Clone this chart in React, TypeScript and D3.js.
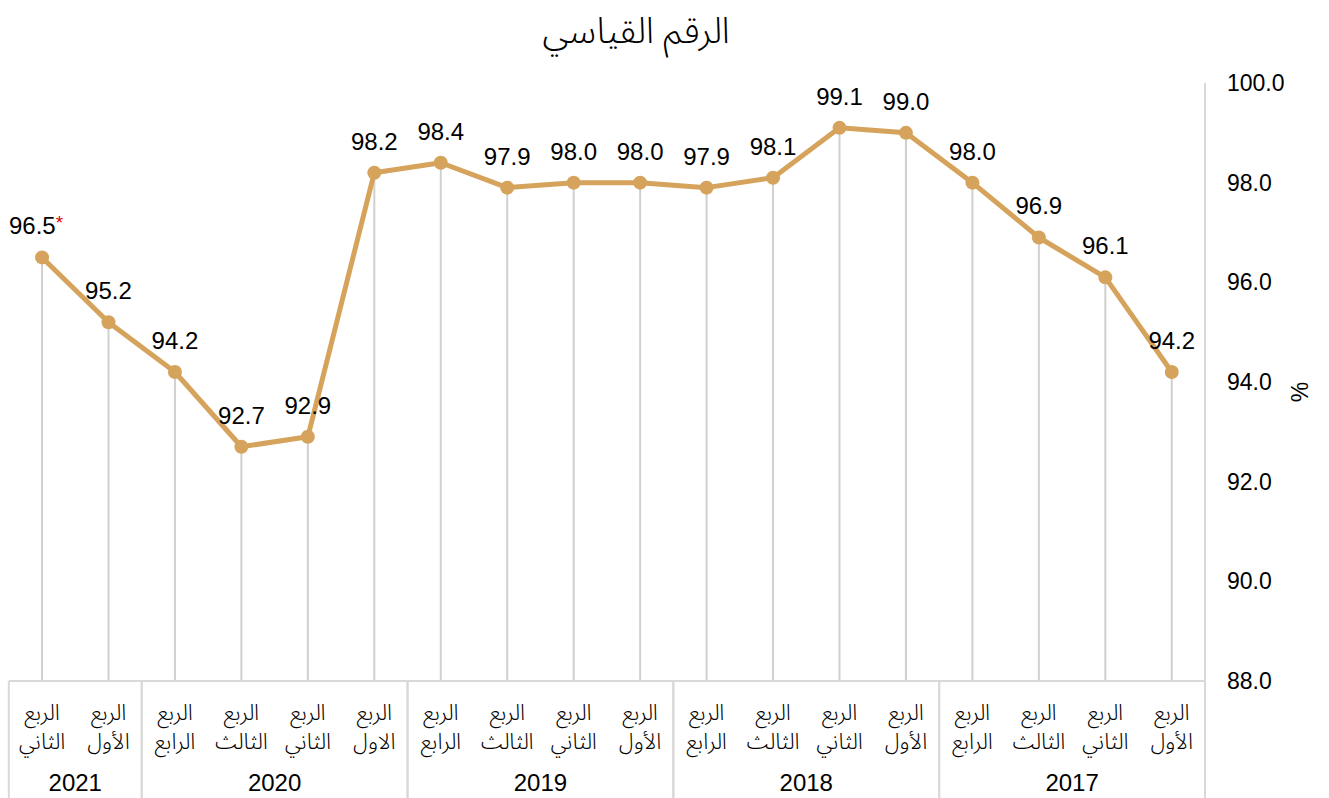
import React from 'react';
import * as d3 from 'd3';

// chronological order, drawn right-to-left
const periodYears = [
  '2017', '2017', '2017', '2017',
  '2018', '2018', '2018', '2018',
  '2019', '2019', '2019', '2019',
  '2020', '2020', '2020', '2020',
  '2021', '2021',
];
const quarterNames = [
  'الأول', 'الثاني', 'الثالث', 'الرابع',
  'الأول', 'الثاني', 'الثالث', 'الرابع',
  'الأول', 'الثاني', 'الثالث', 'الرابع',
  'الاول', 'الثاني', 'الثالث', 'الرابع',
  'الأول', 'الثاني',
];
const indexValues = [
  94.2, 96.1, 96.9, 98.0,
  99.0, 99.1, 98.1, 97.9,
  98.0, 98.0, 97.9, 98.4,
  98.2, 92.9, 92.7, 94.2,
  95.2, 96.5,
];
const yTicks = [88, 90, 92, 94, 96, 98, 100];
const years = ['2017', '2018', '2019', '2020', '2021'];

const W = 1329;
const H = 798;
const left = 8.8;
const right = 1205;
const top = 83;
const bottom = 681;

export default function App() {
  const idx = indexValues.map((_, i) => i);
  const x = d3.scaleBand<number>().domain(idx).range([right, left]).padding(0);
  const y = d3.scaleLinear().domain([88, 100]).range([bottom, top]);
  const cx = (i: number) => (x(i) as number) + x.bandwidth() / 2;

  const line = d3.line<number>()
    .x((_, i) => cx(i))
    .y(d => y(d));

  const lineColor = '#D5A35C';
  const grid = '#d0d0d0';
  const font = '"Liberation Sans", Arial, sans-serif';
  const arabic = '"Noto Sans Arabic", "DejaVu Sans", sans-serif';

  // year group bounds
  const groups = years.map(yr => {
    const members = idx.filter(i => periodYears[i] === yr);
    const xs = members.flatMap(i => [x(i) as number, (x(i) as number) + x.bandwidth()]);
    return { yr, x0: d3.min(xs) as number, x1: d3.max(xs) as number };
  });

  return (
    <svg width={W} height={H} style={{ position: 'absolute', left: 0, top: 0 }} fontFamily={font}>
      <rect width={W} height={H} fill="#fff" />
      <text x={636} y={43} textAnchor="middle" fontSize={36} fontWeight={350} fill="#000" fontFamily={arabic}>الرقم القياسي</text>

      {/* value axis */}
      <line x1={right} x2={right} y1={top} y2={bottom} stroke="#d9d9d9" strokeWidth={2} />
      {yTicks.map(t => (
        <text key={t} x={1227} y={y(t)} dy="0.35em" fontSize={23} fill="#000">{t.toFixed(1)}</text>
      ))}
      <text transform={`translate(1308,${(top + bottom) / 2 + 10}) rotate(-90)`} textAnchor="middle" fontSize={23} fill="#000">%</text>

      {/* drop lines */}
      {indexValues.map((v, i) => (
        <line key={i} x1={cx(i)} x2={cx(i)} y1={y(v)} y2={bottom} stroke={grid} strokeWidth={2} />
      ))}

      {/* category axis */}
      <line x1={left} x2={right} y1={bottom} y2={bottom} stroke="#d9d9d9" strokeWidth={2} />
      {groups.map(g => (
        <g key={g.yr}>
          <line x1={g.x0} x2={g.x0} y1={bottom} y2={H} stroke="#d9d9d9" strokeWidth={2} />
          <line x1={g.x1} x2={g.x1} y1={bottom} y2={H} stroke="#d9d9d9" strokeWidth={2} />
          <text x={(g.x0 + g.x1) / 2} y={791} textAnchor="middle" fontSize={24} fill="#000">{g.yr}</text>
        </g>
      ))}
      {idx.map(i => (
        <g key={i} fontSize={22} fontWeight={350} fill="#000" fontFamily={arabic}>
          <text x={cx(i)} y={720} textAnchor="middle" direction="rtl">الربع</text>
          <text x={cx(i)} y={749} textAnchor="middle" direction="rtl">{quarterNames[i]}</text>
        </g>
      ))}

      {/* series */}
      <path d={line(indexValues) as string} fill="none" stroke={lineColor} strokeWidth={5} strokeLinejoin="round" />
      {indexValues.map((v, i) => (
        <circle key={i} cx={cx(i)} cy={y(v)} r={7} fill={lineColor} />
      ))}
      {indexValues.map((v, i) => (
        <text key={i} x={cx(i) - (i === indexValues.length - 1 ? 6 : 0)} y={y(v) - 23} textAnchor="middle" fontSize={24} fill="#000">
          {v.toFixed(1)}
          {i === indexValues.length - 1 && <tspan fill="#e00000" fontSize={19} dy={-5}>*</tspan>}
        </text>
      ))}
    </svg>
  );
}
